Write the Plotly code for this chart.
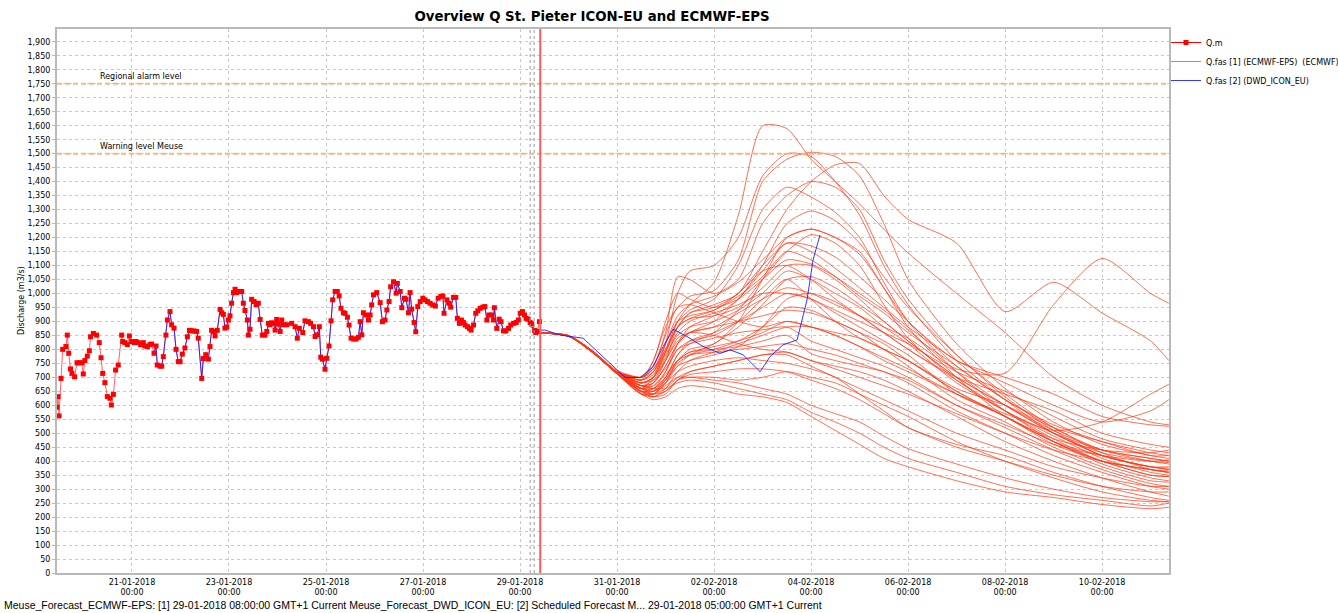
import pandas as pd
import plotly.graph_objects as go

# ---------------- data ----------------
obs_start = pd.Timestamp("2018-01-19 00:00")   # obs_hours are hours after this
obs_hours = [10.9, 11.4, 11.9, 12.9, 13.7, 15.3, 16.0, 16.7, 17.6, 18.3, 19.6, 20.8, 21.9, 23.1, 23.9,
             24.7, 25.9, 26.9, 27.5, 28.9, 30.5, 31.8, 32.7, 33.5, 34.6, 35.8, 37.1, 37.8, 38.8, 39.9,
             41.2, 42.9, 43.4, 44.5, 45.7, 46.7, 47.8, 49.0, 50.0, 51.1, 52.3, 53.6, 54.4, 55.6, 56.9,
             57.7, 58.9, 59.9, 60.5, 61.9, 62.7, 63.5, 64.8, 65.5, 66.8, 67.6, 68.8, 69.8, 70.9, 71.8,
             72.9, 74.2, 75.4, 76.4, 77.5, 78.7, 80.0, 80.8, 82.5, 83.3, 84.5, 85.8, 86.6, 87.4, 88.3,
             89.1, 90.2, 91.6, 92.4, 93.2, 94.0, 94.9, 95.7, 96.5, 97.3, 98.2, 99.0, 99.8, 101.1, 102.3,
             103.1, 103.9, 105.1, 105.6, 106.4, 107.2, 108.4, 109.4, 110.5, 111.4, 112.5, 113.8, 114.7,
             115.5, 116.3, 117.1, 118.0, 118.8, 119.6, 120.4, 121.3, 122.1, 122.9, 124.6, 127.0, 128.7,
             129.8, 130.8, 132.5, 133.6, 135.3, 136.4, 137.8, 138.6, 139.7, 140.7, 141.4, 142.2, 143.5,
             144.4, 145.5, 146.5, 147.3, 148.5, 149.6, 150.5, 151.4, 152.6, 153.4, 154.6, 155.4, 156.4,
             157.6, 158.9, 160.0, 160.9, 161.7, 162.5, 163.8, 165.0, 165.8, 166.6, 167.5, 169.1, 170.8,
             171.9, 173.2, 174.1, 175.2, 176.0, 177.4, 178.7, 179.3, 180.7, 181.5, 182.8, 183.6, 184.8,
             185.6, 186.4, 187.6, 188.4, 189.4, 190.6, 191.9, 193.0, 194.2, 195.5, 196.8, 198.1, 199.5,
             200.8, 201.8, 202.4, 203.8, 204.9, 205.7, 207.1, 208.2, 209.0, 210.0, 211.0, 212.0, 212.8,
             214.0, 215.0, 215.8, 217.0, 218.1, 219.1, 220.3, 221.6, 222.6, 223.6, 224.7, 226.0, 226.9,
             227.3, 228.5, 229.7, 230.6, 231.8, 233.0, 234.3, 235.4, 236.8, 238.1, 239.2, 240.1, 241.2,
             242.2, 243.0, 244.0, 245.0, 245.8, 247.2, 247.8, 248.6, 249.6]
obs_values = [593, 631, 562, 696, 800, 810, 851, 786, 730, 714, 702, 752, 752, 752, 712,
              760, 776, 795, 845, 857, 851, 824, 770, 714, 681, 631, 625, 601, 639, 726,
              744, 851, 828, 824, 817, 848, 828, 824, 828, 824, 817, 824, 812, 810, 817,
              819, 786, 812, 744, 740, 740, 774, 851, 905, 935, 888, 876, 800, 756, 756,
              783, 805, 845, 868, 866, 866, 864, 840, 696, 767, 781, 765, 810, 868, 864,
              848, 868, 943, 931, 925, 876, 880, 905, 920, 965, 1003, 1015, 1003, 1007, 1007,
              965, 939, 905, 851, 872, 979, 971, 960, 965, 907, 851, 851, 864,
              893, 888, 895, 893, 869, 907, 890, 864, 905, 888, 888, 893, 881,
              840, 875, 860, 902, 899, 893, 881, 846, 852, 881, 772, 765, 729,
              768, 812, 902, 977, 1007, 1007, 991, 947, 931, 929, 915, 887, 840,
              837, 837, 843, 899, 852, 931, 923, 905, 923, 959, 995, 1003, 967,
              899, 905, 941, 971, 1024, 1042, 1001, 1036, 1007, 949, 983, 979, 931,
              1003, 944, 896, 863, 953, 971, 983, 977, 971, 965, 959, 955, 983,
              989, 991, 929, 977, 965, 951, 986, 986, 911, 893, 905, 896, 887,
              881, 875, 869, 887, 929, 938, 947, 951, 953, 905, 923, 923, 905,
              949, 875, 908, 899, 866, 866, 875, 887, 893, 896, 905, 929, 935,
              923, 911, 908, 896, 891, 867, 860, 864, 899]

icon_hindcast_start_h = 58.0   # ICON run follows the measurements from here (hours after obs_start)
icon_t0_h = 245.0              # ICON forecast start (hours after obs_start)

fc_base = pd.Timestamp("2018-01-29 00:00")      # forecast hours are hours after this
icon_fc_hours = [5.0, 9.9, 12.4, 19.8, 31.2, 41.1, 52.0, 59.4, 65.8, 70.8, 75.7, 82.6, 90.6,
                 99.0, 103.9, 110.3, 118.8, 123.7, 130.1, 137.1, 142.0, 145.0, 148.4]
icon_fc_values = [881, 869, 869, 851, 840, 774, 700, 699, 738, 810, 872, 846, 810,
                  786, 798, 781, 720, 774, 816, 834, 977, 1120, 1209]

ecmwf_hours = [8, 24, 36, 48, 60, 66, 72, 78, 84, 96, 108, 120, 132, 144, 156, 168, 180, 192,
               216, 240, 264, 288, 312, 321]
ecmwf_members = [
    [860, 848, 792, 718, 680, 700, 790, 900, 960, 1040, 1280, 1600, 1590, 1480, 1400, 1320, 1230, 1145, 1000, 860, 700, 600, 540, 530],
    [860, 848, 790, 716, 690, 760, 880, 950, 990, 1010, 1120, 1400, 1480, 1505, 1490, 1420, 1250, 1050, 820, 660, 540, 460, 420, 410],
    [860, 850, 795, 725, 700, 720, 790, 880, 930, 960, 1000, 1150, 1300, 1400, 1460, 1465, 1350, 1265, 1180, 935, 1040, 930, 830, 760],
    [860, 848, 790, 716, 670, 690, 760, 830, 860, 880, 930, 980, 1020, 1000, 960, 920, 880, 840, 730, 715, 960, 1125, 1000, 965],
    [860, 847, 789, 714, 660, 700, 820, 1000, 1080, 1100, 1200, 1420, 1500, 1490, 1400, 1280, 1100, 960, 760, 620, 500, 430, 400, 395],
    [860, 848, 791, 717, 700, 740, 860, 1060, 1050, 1000, 1050, 1250, 1350, 1400, 1380, 1300, 1120, 980, 780, 640, 520, 440, 400, 390],
    [860, 849, 793, 720, 690, 720, 800, 900, 940, 980, 1100, 1300, 1380, 1345, 1290, 1200, 1040, 900, 720, 580, 480, 400, 370, 360],
    [860, 848, 790, 716, 650, 660, 720, 820, 880, 920, 980, 1100, 1250, 1295, 1260, 1180, 1060, 950, 780, 630, 510, 420, 380, 370],
    [860, 847, 788, 712, 640, 640, 680, 760, 800, 820, 900, 1050, 1200, 1230, 1200, 1150, 1020, 880, 700, 560, 470, 400, 350, 345],
    [860, 848, 790, 715, 660, 680, 760, 880, 930, 950, 1000, 1100, 1180, 1170, 1130, 1060, 980, 900, 740, 620, 520, 430, 370, 360],
    [860, 849, 792, 719, 700, 760, 900, 1000, 980, 950, 980, 1050, 1120, 1105, 1060, 1000, 940, 870, 720, 600, 500, 420, 380, 370],
    [860, 848, 791, 717, 680, 700, 780, 850, 880, 900, 940, 1000, 1080, 1050, 1000, 950, 880, 820, 680, 580, 490, 410, 360, 350],
    [860, 847, 789, 714, 650, 650, 700, 780, 830, 860, 900, 950, 1000, 980, 930, 880, 830, 780, 640, 560, 460, 400, 350, 345],
    [860, 848, 790, 716, 670, 680, 740, 820, 860, 880, 900, 920, 940, 930, 900, 860, 820, 760, 650, 560, 470, 390, 340, 330],
    [860, 849, 793, 720, 700, 740, 850, 950, 960, 930, 900, 880, 900, 880, 860, 840, 800, 740, 620, 540, 450, 380, 330, 325],
    [860, 848, 790, 715, 660, 670, 720, 800, 820, 840, 860, 870, 880, 830, 800, 770, 740, 700, 600, 520, 440, 370, 320, 310],
    [860, 847, 788, 712, 640, 640, 690, 760, 790, 800, 810, 830, 850, 785, 760, 740, 720, 680, 580, 500, 420, 360, 310, 300],
    [860, 848, 791, 718, 680, 700, 760, 840, 860, 850, 820, 800, 790, 760, 740, 720, 690, 650, 560, 470, 400, 340, 290, 275],
    [860, 847, 789, 713, 650, 650, 680, 720, 740, 760, 770, 760, 750, 730, 700, 640, 580, 520, 460, 420, 360, 310, 270, 260],
    [860, 848, 790, 716, 660, 650, 670, 700, 700, 690, 680, 660, 640, 600, 570, 540, 490, 445, 390, 340, 300, 270, 255, 255],
    [860, 849, 792, 718, 670, 660, 660, 680, 690, 680, 660, 640, 620, 575, 540, 500, 450, 410, 360, 310, 280, 260, 240, 250],
    [860, 847, 788, 712, 640, 620, 630, 660, 670, 660, 640, 630, 610, 560, 510, 460, 410, 380, 330, 290, 270, 245, 230, 235],
    [860, 848, 790, 715, 650, 630, 640, 690, 700, 700, 690, 700, 720, 700, 680, 640, 600, 560, 470, 400, 340, 290, 260, 255],
    [860, 848, 791, 717, 680, 690, 730, 800, 830, 850, 900, 980, 1050, 980, 900, 840, 800, 760, 660, 600, 520, 470, 430, 420],
    [860, 849, 793, 720, 700, 730, 820, 900, 920, 940, 1000, 1080, 1100, 1050, 980, 920, 860, 800, 700, 640, 580, 500, 460, 450],
    [860, 848, 790, 716, 660, 660, 700, 780, 820, 860, 940, 1050, 1150, 1210, 1180, 1100, 960, 840, 690, 580, 500, 440, 410, 400],
    [860, 847, 789, 714, 650, 640, 680, 740, 780, 820, 880, 960, 1050, 1060, 1020, 960, 900, 830, 700, 600, 510, 440, 410, 400],
    [860, 848, 791, 717, 680, 700, 770, 860, 900, 930, 960, 1000, 1000, 980, 940, 900, 860, 820, 720, 650, 560, 480, 440, 430],
    [860, 848, 790, 716, 670, 680, 740, 820, 860, 900, 980, 1080, 1180, 1150, 1090, 1020, 950, 880, 760, 680, 600, 540, 580, 620],
    [860, 847, 788, 712, 640, 630, 660, 720, 760, 790, 820, 850, 880, 880, 850, 810, 760, 720, 640, 570, 510, 540, 640, 675],
    [860, 849, 792, 718, 690, 720, 820, 920, 960, 990, 1040, 1120, 1200, 1230, 1200, 1140, 1020, 900, 760, 700, 640, 560, 530, 525],
    [860, 848, 790, 716, 660, 660, 700, 760, 780, 790, 800, 810, 820, 800, 780, 750, 720, 690, 600, 530, 460, 420, 400, 405],
    [860, 847, 789, 714, 650, 640, 660, 700, 720, 740, 760, 780, 790, 760, 730, 700, 670, 640, 570, 500, 440, 400, 370, 365],
    [860, 848, 791, 717, 670, 670, 710, 760, 790, 810, 830, 860, 900, 880, 850, 810, 770, 730, 640, 560, 470, 420, 380, 375],
    [860, 849, 793, 720, 700, 730, 800, 880, 910, 940, 990, 1060, 1150, 1120, 1060, 990, 930, 860, 740, 620, 530, 470, 420, 420],
    [860, 848, 790, 715, 660, 650, 690, 750, 780, 800, 830, 880, 950, 940, 900, 860, 800, 760, 650, 560, 480, 440, 430, 440],
    [860, 847, 788, 712, 645, 630, 650, 690, 710, 720, 730, 730, 720, 690, 660, 620, 570, 520, 450, 400, 350, 310, 290, 290],
    [860, 848, 790, 716, 660, 640, 650, 690, 720, 740, 760, 780, 780, 740, 700, 660, 620, 580, 500, 440, 380, 340, 310, 310],
    [860, 849, 792, 718, 690, 710, 790, 880, 910, 920, 950, 1020, 1100, 1100, 1050, 980, 900, 830, 700, 600, 500, 420, 380, 380],
    [860, 848, 791, 716, 670, 660, 690, 740, 760, 780, 810, 880, 980, 1000, 970, 920, 860, 800, 690, 580, 470, 400, 370, 360],
]

level_values = [1750, 1500]
level_labels = ["Regional alarm level", "Warning level Meuse"]

x_tick_dates = ["2018-01-21", "2018-01-23", "2018-01-25", "2018-01-27", "2018-01-29", "2018-01-31",
                "2018-02-02", "2018-02-04", "2018-02-06", "2018-02-08", "2018-02-10"]

marker_lines = ["2018-01-29 05:00", "2018-01-29 07:00"]
now_line = "2018-01-29 10:00"
x_range = ["2018-01-19 10:54", "2018-02-11 09:06"]
y_max = 1946

title_text = "Overview Q St. Pieter ICON-EU and ECMWF-EPS"
caption = ("Meuse_Forecast_ECMWF-EPS: [1] 29-01-2018 08:00:00 GMT+1 Current "
           "Meuse_Forecast_DWD_ICON_EU: [2] Scheduled Forecast M... 29-01-2018 05:00:00 GMT+1 Current")

# ---------------- figure ----------------
FONT = "DejaVu Sans"
obs_t = [obs_start + pd.Timedelta(hours=h) for h in obs_hours]
ecmwf_t = [fc_base + pd.Timedelta(hours=h) for h in ecmwf_hours]

icon_t, icon_v = [], []
for h, v in zip(obs_hours, obs_values):
    if icon_hindcast_start_h <= h <= icon_t0_h:
        icon_t.append(obs_start + pd.Timedelta(hours=h))
        icon_v.append(v)
for h, v in zip(icon_fc_hours, icon_fc_values):
    icon_t.append(fc_base + pd.Timedelta(hours=h))
    icon_v.append(v)

fig = go.Figure()

# measurement line (underneath)
fig.add_trace(go.Scatter(x=obs_t, y=obs_values, mode="lines",
                         line=dict(color="rgba(255,60,60,0.8)", width=1),
                         showlegend=False, hoverinfo="skip"))

ecmwf_color = "rgba(255,55,20,0.72)"
for i, mem in enumerate(ecmwf_members):
    fig.add_trace(go.Scatter(x=ecmwf_t, y=mem, mode="lines",
                             line=dict(color=ecmwf_color, width=1, shape="spline", smoothing=0.7),
                             name="Q.fas [1] (ECMWF-EPS)  (ECMWF)", legendgroup="ecmwf",
                             showlegend=(i == 0), legendrank=2))

fig.add_trace(go.Scatter(x=icon_t, y=icon_v, mode="lines",
                         line=dict(color="rgba(20,20,255,0.85)", width=1),
                         name="Q.fas [2] (DWD_ICON_EU)", legendrank=3))

fig.add_trace(go.Scatter(x=obs_t, y=obs_values, mode="markers",
                         marker=dict(symbol="square", size=5, color="#ff0000"),
                         showlegend=False))
# legend entry for Q.m
fig.add_trace(go.Scatter(x=[None], y=[None], mode="lines+markers", name="Q.m",
                         line=dict(color="#ff0000", width=1),
                         marker=dict(symbol="square", size=5, color="#ff0000"),
                         legendrank=1))

# threshold lines and labels
for val, lab in zip(level_values, level_labels):
    fig.add_shape(type="line", xref="paper", x0=0, x1=1, yref="y", y0=val, y1=val,
                  line=dict(color="#f8b482", width=2, dash="5px,3px"), layer="above")
    fig.add_annotation(xref="paper", x=0.037, yref="y", y=val, yshift=1, text=lab,
                       showarrow=False, xanchor="left", yanchor="bottom",
                       font=dict(family=FONT, size=8, color="#000000"))

for t in marker_lines:
    fig.add_shape(type="line", xref="x", x0=t, x1=t, yref="paper", y0=0, y1=1,
                  line=dict(color="#999999", width=1, dash="dot"))
fig.add_shape(type="line", xref="x", x0=now_line, x1=now_line, yref="paper", y0=0, y1=1,
              line=dict(color="#ff5a5a", width=2), layer="above")

tick_text = [pd.Timestamp(d).strftime("%d-%m-%Y") + "<br>00:00" for d in x_tick_dates]

fig.update_layout(
    width=1338, height=613,
    margin=dict(l=57, r=169, t=29, b=40, autoexpand=False),
    paper_bgcolor="white", plot_bgcolor="white",
    title=dict(text="<b>" + title_text + "</b>", xref="container", x=0.4425,
               yref="container", y=0.974, xanchor="center", yanchor="middle",
               font=dict(family=FONT, size=13.3, color="#000000")),
    legend=dict(xref="container", x=1166 / 1338, xanchor="left",
                yref="container", y=1 - 28 / 613, yanchor="top", bgcolor="rgba(0,0,0,0)",
                font=dict(family=FONT, size=8, color="#000000"), itemwidth=30,
                tracegroupgap=0, traceorder="normal"),
    showlegend=True,
    xaxis=dict(type="date", range=x_range, tickvals=x_tick_dates, ticktext=tick_text,
               tickfont=dict(family=FONT, size=8, color="#000000"),
               showgrid=True, gridcolor="#c8c8c8", griddash="dot", gridwidth=1,
               showline=True, linecolor="#b9b9b9", linewidth=2, mirror=True,
               ticks="", zeroline=False),
    yaxis=dict(range=[0, y_max], dtick=50, tick0=0, tickformat=",d",
               tickfont=dict(family=FONT, size=8, color="#000000"),
               showgrid=True, gridcolor="#c8c8c8", griddash="dot", gridwidth=1,
               showline=True, linecolor="#b9b9b9", linewidth=2, mirror=True,
               ticks="outside", ticklen=3, tickcolor="#b9b9b9", zeroline=False),
)

fig.add_annotation(xref="paper", x=-0.0315, yref="paper", y=0.502, text="Discharge (m3/s)",
                   textangle=-90, showarrow=False, xanchor="center", yanchor="middle",
                   font=dict(family=FONT, size=8, color="#000000"))
fig.add_annotation(xref="paper", x=-0.0495, yref="paper", y=-0.0588, text=caption,
                   showarrow=False, xanchor="left", yanchor="middle",
                   font=dict(family="Liberation Sans", size=10.5, color="#000000"))

fig.write_html("out.html", config={"displayModeBar": False},
               post_script="document.body.style.margin='0';")
